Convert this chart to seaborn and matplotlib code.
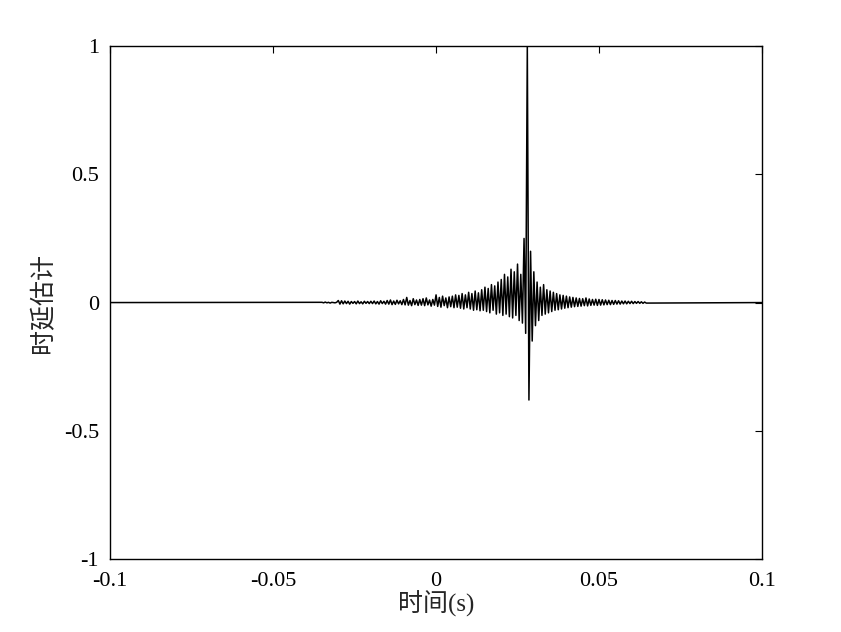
import numpy as np
import pandas as pd
import matplotlib
matplotlib.use("Agg")
import matplotlib.pyplot as plt
import seaborn as sns

sns.set_style("white")
plt.rcParams['font.family'] = ['Liberation Serif', 'Noto Sans CJK SC']

t_start, t_step = -0.035, 0.0005
vals = [
 0.001,-0.001,0.002,-0.001,0.001,-0.002,0.001,0.000,-0.001,0.001,
 0.008,-0.006,0.007,-0.005,0.006,-0.004,0.005,-0.006,0.004,-0.003,
 0.004,-0.005,0.006,-0.004,0.003,-0.005,0.005,-0.003,0.004,-0.004,
 0.005,-0.004,0.006,-0.005,0.004,-0.006,0.007,-0.004,0.005,-0.006,
 0.008,-0.006,0.010,-0.008,0.006,-0.007,0.009,-0.005,0.007,-0.008,
 0.012,-0.009,0.020,-0.010,0.008,-0.012,0.015,-0.008,0.010,-0.011,
 0.012,-0.010,0.015,-0.012,0.018,-0.009,0.010,-0.014,0.012,-0.010,
 0.030,-0.015,0.020,-0.018,0.025,-0.012,0.018,-0.020,0.022,-0.016,
 0.025,-0.020,0.030,-0.018,0.028,-0.022,0.035,-0.025,0.030,-0.020,
 0.040,-0.025,0.035,-0.030,0.045,-0.028,0.038,-0.032,0.050,-0.030,
 0.060,-0.035,0.055,-0.040,0.070,-0.030,0.065,-0.045,0.080,-0.040,
 0.090,-0.050,0.110,-0.045,0.100,-0.055,0.130,-0.060,0.120,-0.050,
 0.150,-0.070,0.110,-0.080,0.250,-0.120,1.000,-0.380,0.200,-0.150,
 0.120,-0.090,0.080,-0.070,0.060,-0.050,0.070,-0.045,0.050,-0.040,
 0.045,-0.035,0.040,-0.030,0.035,-0.028,0.030,-0.025,0.028,-0.022,
 0.025,-0.020,0.022,-0.018,0.020,-0.016,0.018,-0.015,0.016,-0.014,
 0.015,-0.012,0.018,-0.013,0.014,-0.011,0.012,-0.010,0.013,-0.011,
 0.012,-0.010,0.011,-0.009,0.010,-0.008,0.009,-0.008,0.008,-0.007,
 0.008,-0.006,0.007,-0.006,0.006,-0.005,0.006,-0.005,0.005,-0.004,
 0.005,-0.004,0.004,-0.003,0.004,-0.003,0.003,-0.003,0.002,-0.002,
]
t = [-0.1] + list(t_start + t_step*np.arange(len(vals))) + [0.1]
y = [0.0] + vals + [0.0]
df = pd.DataFrame({"t": t, "y": y})

fig = plt.figure(figsize=(8.41, 6.32), dpi=100)
ax = fig.add_axes([0.131, 0.1155, 0.775, 0.8115])
sns.lineplot(data=df, x="t", y="y", ax=ax, color="black", linewidth=1.1, estimator=None, sort=False)
ax.set_xlim(-0.1, 0.1)
ax.set_ylim(-1, 1)
ax.set_xticks([-0.1, -0.05, 0, 0.05, 0.1])
ax.set_xticklabels(["-0.1", "-0.05", "0", "0.05", "0.1"])
ax.set_yticks([-1, -0.5, 0, 0.5, 1])
ax.set_yticklabels(["-1", "-0.5", "0", "0.5", "1"])
ax.tick_params(direction="in", length=5, labelsize=16, top=True, right=True, colors="black")
ax.tick_params(axis="x", pad=9)
ax.tick_params(axis="y", pad=8)
for s in ax.spines.values():
    s.set_color("black"); s.set_linewidth(1.0)
ax.set_xlabel("时间(s)", fontsize=18, labelpad=0)
ax.set_ylabel("时延估计", fontsize=18, labelpad=6)
fig.savefig("out.png", dpi=100)
